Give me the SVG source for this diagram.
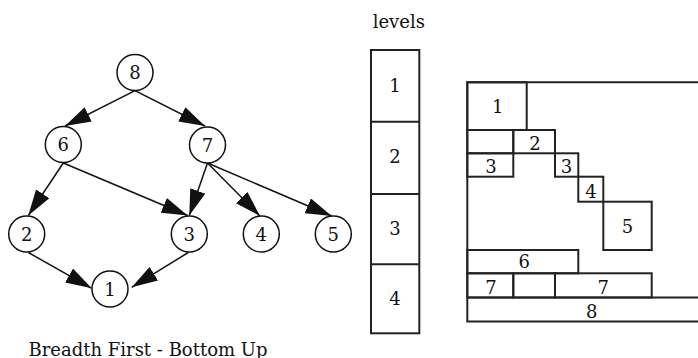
<svg xmlns="http://www.w3.org/2000/svg" width="698" height="358" viewBox="0 0 698 358">
<style>
text{font-family:"DejaVu Serif","Liberation Serif",serif;font-size:18px;fill:#111;text-anchor:middle}
.n{fill:#fff;stroke:#111;stroke-width:1.5}
.e{stroke:#111;stroke-width:1.5;fill:none;marker-end:url(#ah)}
.b{fill:none;stroke:#222;stroke-width:2}
</style>
<defs>
<marker id="ah" markerUnits="userSpaceOnUse" markerWidth="26" markerHeight="16" refX="26" refY="8" orient="auto">
<path d="M0,0 L26,8 L0,16 z" fill="#111"/>
</marker>
</defs>
<g id="edges">
<line class="e" x1="135" y1="90.7" x2="65" y2="126"/>
<line class="e" x1="135" y1="90.7" x2="205" y2="126"/>
<line class="e" x1="63.3" y1="163" x2="28.3" y2="215.5"/>
<line class="e" x1="63.3" y1="163" x2="187.7" y2="215.5"/>
<line class="e" x1="207.5" y1="163" x2="189.3" y2="215.5"/>
<line class="e" x1="207.5" y1="163" x2="260" y2="216"/>
<line class="e" x1="207.5" y1="163" x2="331.7" y2="216"/>
<line class="e" x1="28.3" y1="252.5" x2="91.7" y2="288.3"/>
<line class="e" x1="188.3" y1="252.5" x2="131.7" y2="287.3"/>
</g>
<g id="node8"><circle class="n" cx="135" cy="72.5" r="18"/><text x="135" y="79">8</text></g>
<g id="node6"><circle class="n" cx="63.3" cy="144.5" r="18"/><text x="63.3" y="151">6</text></g>
<g id="node7"><circle class="n" cx="207.5" cy="145" r="18"/><text x="207.5" y="151.5">7</text></g>
<g id="node2"><circle class="n" cx="26.7" cy="234" r="18"/><text x="26.7" y="240.5">2</text></g>
<g id="node3"><circle class="n" cx="189.3" cy="234" r="18"/><text x="189.3" y="240.5">3</text></g>
<g id="node4"><circle class="n" cx="261.3" cy="234" r="18"/><text x="261.3" y="240.5">4</text></g>
<g id="node5"><circle class="n" cx="333.3" cy="234" r="18"/><text x="333.3" y="240.5">5</text></g>
<g id="node1"><circle class="n" cx="110" cy="289" r="18"/><text x="110" y="295.5">1</text></g>
<text x="148" y="355.5">Breadth First - Bottom Up</text>
<g id="levels">
<text x="398.8" y="28.3">levels</text>
<rect class="b" x="371" y="50" width="48.3" height="283.3"/>
<line class="b" x1="371" y1="121.7" x2="419.3" y2="121.7"/>
<line class="b" x1="371" y1="194" x2="419.3" y2="194"/>
<line class="b" x1="371" y1="264.3" x2="419.3" y2="264.3"/>
<text x="395" y="91.7">1</text>
<text x="395" y="163.3">2</text>
<text x="395" y="235">3</text>
<text x="395" y="305">4</text>
</g>
<g id="layout">
<path class="b" d="M698,82.3 H467.3 V321.5 H698 M467.3,297.5 H698"/>
<rect class="b" x="467.3" y="82.3" width="59.4" height="47.7"/>
<rect class="b" x="467.3" y="130" width="46" height="23.3"/>
<rect class="b" x="513.3" y="130" width="41.7" height="23.3"/>
<rect class="b" x="467.3" y="153.3" width="46" height="23.4"/>
<rect class="b" x="555" y="153.3" width="23.3" height="23.4"/>
<rect class="b" x="578.3" y="176.7" width="25" height="25"/>
<rect class="b" x="603.3" y="201.7" width="48.4" height="48.3"/>
<rect class="b" x="467.3" y="250" width="111" height="23.3"/>
<rect class="b" x="467.3" y="273.3" width="46" height="24.2"/>
<rect class="b" x="513.3" y="273.3" width="41.7" height="24.2"/>
<rect class="b" x="555" y="273.3" width="96.7" height="24.2"/>
<text x="497.7" y="113.3">1</text>
<text x="535" y="150">2</text>
<text x="491" y="173.3">3</text>
<text x="566.5" y="173.3">3</text>
<text x="591" y="198.3">4</text>
<text x="627.5" y="232.7">5</text>
<text x="524.3" y="268.3">6</text>
<text x="491" y="294.3">7</text>
<text x="603.3" y="294.3">7</text>
<text x="591.7" y="318.3">8</text>
</g>
</svg>
